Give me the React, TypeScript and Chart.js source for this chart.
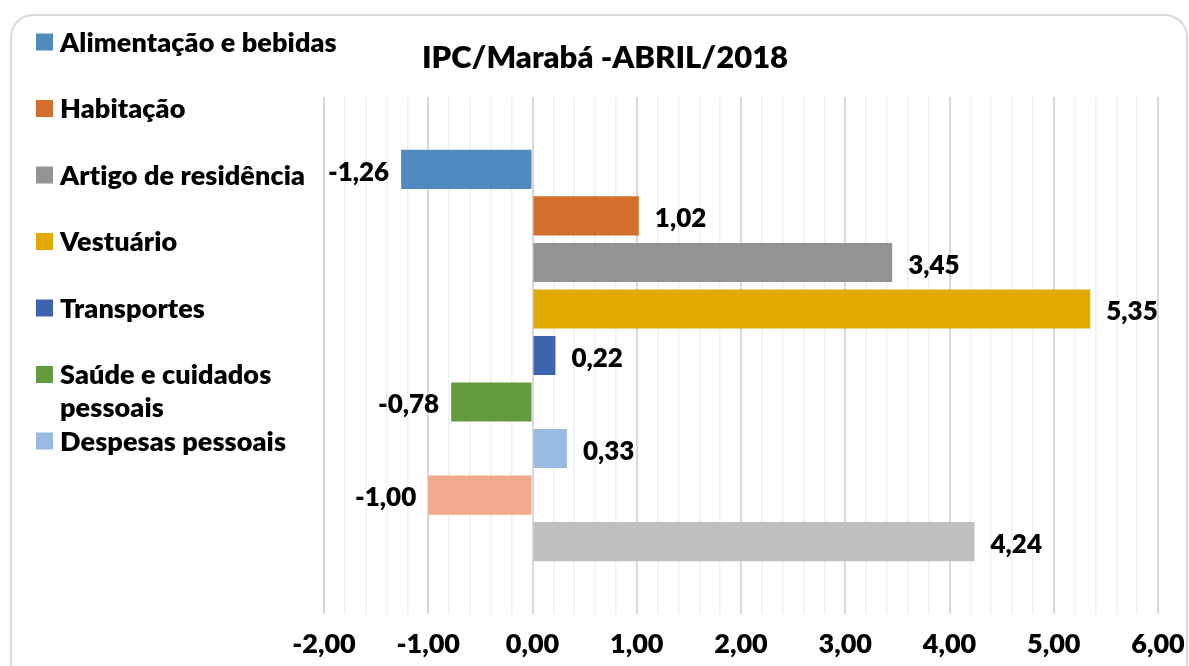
import React, { useEffect, useRef } from "react";
import { Chart, registerables } from "chart.js";

Chart.register(...registerables);

const title = "IPC/Marabá -ABRIL/2018";
const seriesLabels = [
  "Alimentação e bebidas",
  "Habitação",
  "Artigo de residência",
  "Vestuário",
  "Transportes",
  "Saúde e cuidados pessoais",
  "Despesas pessoais",
  "Educação",
  "Comunicação",
];
const seriesValues = [-1.26, 1.02, 3.45, 5.35, 0.22, -0.78, 0.33, -1.0, 4.24];
const seriesColors = [
  "#4E8ABE",
  "#D46E2C",
  "#939393",
  "#E2AA00",
  "#3C64AD",
  "#629A3E",
  "#98B9E0",
  "#F2A88A",
  "#BFBFBF",
];
const legendShown = 7;
const xMin = -2;
const xMax = 6;
const xStep = 0.2;

const FONT = "Lato";
const W = "800";

const fmt = (v: number) => v.toFixed(2).replace(".", ",");

const frame = {
  id: "frame",
  beforeDraw(chart: any) {
    const ctx = chart.ctx;
    ctx.save();
    ctx.fillStyle = "#ffffff";
    ctx.fillRect(0, 0, chart.width, chart.height);
    ctx.strokeStyle = "#d9d9d9";
    ctx.lineWidth = 2;
    ctx.beginPath();
    (ctx as any).roundRect(11, 15, 1176, 720, 22);
    ctx.stroke();
    ctx.restore();
  },
};

const titleAndLegend = {
  id: "titleAndLegend",
  afterDraw(chart: any) {
    const ctx = chart.ctx;
    ctx.save();
    ctx.fillStyle = "#000";
    ctx.font = `${W} 31px ${FONT}`;
    ctx.textAlign = "center";
    ctx.textBaseline = "middle";
    ctx.fillText(title, 605, 58);

    ctx.font = `${W} 27px ${FONT}`;
    (ctx as any).letterSpacing = "0.1px";
    ctx.textAlign = "left";
    const maxW = 300;
    for (let i = 0; i < legendShown; i++) {
      const y = 42 + 66.5 * i;
      ctx.fillStyle = seriesColors[i];
      ctx.fillRect(36, y - 8.5, 17, 17);
      ctx.fillStyle = "#000";
      const words = seriesLabels[i].split(" ");
      const lines: string[] = [];
      let cur = "";
      for (const w of words) {
        const t = cur ? cur + " " + w : w;
        if (ctx.measureText(t).width > maxW && cur) {
          lines.push(cur);
          cur = w;
        } else cur = t;
      }
      lines.push(cur);
      lines.forEach((ln, k) => ctx.fillText(ln, 60, y + 1 + k * 33));
    }
    ctx.restore();
  },
};

const valueLabels = {
  id: "valueLabels",
  afterDatasetsDraw(chart: any) {
    const ctx = chart.ctx;
    ctx.save();
    ctx.font = `${W} 26px ${FONT}`;
    ctx.fillStyle = "#000";
    ctx.textBaseline = "middle";
    chart.data.datasets.forEach((ds: any, i: number) => {
      const el = chart.getDatasetMeta(i).data[0];
      if (!el) return;
      const v = ds.data[0];
      if (v >= 0) {
        ctx.textAlign = "left";
        ctx.fillText(fmt(v), el.x + 16, el.y + 3);
      } else {
        ctx.textAlign = "right";
        ctx.fillText(fmt(v), el.x - 12, el.y + 3);
      }
    });
    ctx.restore();
  },
};

export default function App() {
  const ref = useRef<HTMLCanvasElement>(null);
  useEffect(() => {
    document.body.style.margin = "0";
    const chart = new Chart(ref.current!, {
      type: "bar",
      data: {
        labels: [""],
        datasets: seriesLabels.map((l, i) => ({
          label: l,
          data: [seriesValues[i]],
          backgroundColor: seriesColors[i],
          borderWidth: 0,
          categoryPercentage: 0.81,
          barPercentage: 0.84,
        })),
      },
      options: {
        indexAxis: "y",
        animation: false,
        responsive: false,
        layout: { padding: { left: 324, right: 31, top: 97, bottom: 0 } },
        plugins: {
          legend: { display: false },
          title: { display: false },
          tooltip: { enabled: false },
        },
        scales: {
          y: { display: false },
          x: {
            min: xMin,
            max: xMax,
            border: { display: false },
            grid: {
              drawTicks: false,
              color: (c: any) => {
                const v = c.tick ? c.tick.value : 0;
                return Math.abs(v - Math.round(v)) < 1e-6 ? "#d9d9d9" : "#f0f0f0";
              },
              lineWidth: (c: any) => {
                const v = c.tick ? c.tick.value : 0;
                return Math.abs(v - Math.round(v)) < 1e-6 ? 2 : 1.5;
              },
            },
            ticks: {
              stepSize: xStep,
              autoSkip: false,
              maxRotation: 0,
              padding: 14,
              color: "#000",
              font: { family: FONT, size: 27, weight: W },
              callback: (v: any) => {
                const n = Number(v);
                return Math.abs(n - Math.round(n)) < 1e-6 ? fmt(Math.round(n)) : "";
              },
            },
            afterFit: (s: any) => {
              s.paddingLeft = 0;
              s.paddingRight = 0;
              s.height = 52;
            },
          },
        },
      },
      plugins: [frame, titleAndLegend, valueLabels],
    } as any);
    return () => chart.destroy();
  }, []);
  return <canvas ref={ref} width={1189} height={666} style={{ display: "block" }} />;
}
